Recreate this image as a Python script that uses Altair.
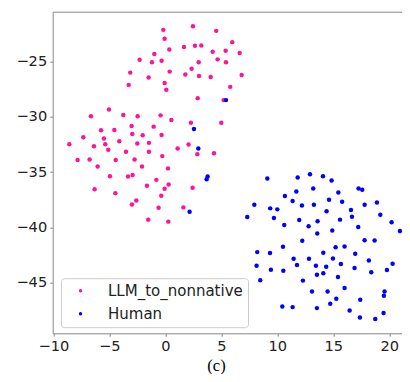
import altair as alt
import pandas as pd

# ---- data ----
llm_x = [-0.18, -0.06, 2.47, 4.55, 5.98, 0.36, 1.67, 2.65, 3.21, 4.23, 5.39, 6.64,
         -0.98, -2.29, -1.19, -0.33, 2.98, 4.67, 5.42, -3.13, 0.39, 2.35, -1.49, 1.79,
         3.01, 4.05, 6.82, -3.27, -0.06, 0.09, 5.80, 2.89, 5.21,
         -5.03, -6.64, -3.75, -2.47, -0.42, 0.54, 2.29, 5.00, -3.01, -1.04, -5.74, -4.55,
         -2.95, -2.02, -0.33, -7.32, -5.48, -4.11, -8.57, -6.37, -5.36, -2.50, -1.46, 2.08,
         1.10, -5.09, -3.51, -1.46, 2.86, 4.35, -0.27, -7.83, -6.76, -4.43, -2.74, -6.04,
         -2.08, 0.24, -4.94, -3.33, -2.92, -0.80, -1.64, 0.30, -6.31, -0.06, 2.44, -4.46,
         -0.36, -2.59, -2.98, -0.60, 1.61, -1.52, 0.27]
llm_y = [-22.12, -22.93, -21.79, -22.21, -23.23, -23.89, -23.68, -23.56, -23.53, -24.10, -24.01, -24.22,
         -24.31, -24.82, -25.06, -24.91, -25.06, -24.79, -25.06, -25.99, -25.90, -25.63, -26.44, -26.17,
         -26.29, -26.38, -26.20, -27.10, -26.92, -27.55, -27.28, -28.30, -28.48,
         -29.32, -29.95, -29.83, -29.95, -29.86, -30.28, -30.52, -30.52, -30.82, -30.88, -31.21, -31.18,
         -31.54, -31.66, -31.63, -31.84, -31.96, -32.20, -32.47, -32.65, -32.47, -32.41, -32.35, -32.50,
         -32.86, -32.98, -33.16, -33.16, -33.37, -33.28, -33.55, -33.91, -33.85, -33.91, -33.85, -34.48,
         -34.48, -34.66, -35.37, -35.40, -35.25, -35.70, -36.24, -36.12, -36.54, -36.51, -36.42, -36.90,
         -37.14, -37.56, -37.92, -38.22, -38.19, -39.30, -39.48]

human_x = [5.42, 2.56, 2.95, 3.78, 3.69, 2.17,
           12.92, 14.08, 14.85, 9.11, 11.82, 13.21, 11.70, 14.62, 15.45, 17.26, 17.59, 10.68,
           11.37, 7.95, 12.20, 13.27, 15.79, 17.80, 18.90, 9.37, 10.00, 14.40, 16.58, 7.32,
           9.70, 16.67, 19.20, 11.96, 13.60, 15.60, 20.21, 10.62, 12.80, 14.91, 17.23, 20.95,
           13.57, 12.23, 17.80, 18.69, 10.51, 15.21, 16.01, 14.11, 8.21, 9.35, 16.96, 11.46,
           12.83, 14.97, 18.18, 11.76, 13.45, 14.37, 15.68, 20.30, 8.15, 9.43, 10.54, 16.90,
           19.79, 18.39, 14.11, 13.54, 15.42, 8.48, 12.29, 16.01, 13.10, 14.49, 19.58, 19.52,
           15.27, 17.41, 14.73, 10.45, 11.37, 13.54, 16.46, 19.49, 17.38, 18.75]
human_y = [-28.48, -31.09, -32.86, -35.40, -35.64, -38.58,
           -35.19, -35.37, -35.76, -35.58, -35.49, -36.48, -36.75, -37.50, -36.84, -36.48, -36.60, -37.17,
           -37.62, -37.95, -38.01, -37.95, -37.68, -37.95, -37.74, -38.28, -38.37, -38.55, -38.43, -39.06,
           -39.15, -39.03, -38.85, -39.33, -39.45, -39.30, -39.54, -39.78, -39.90, -40.29, -39.96, -40.32,
           -40.56, -41.22, -41.16, -41.19, -41.76, -41.79, -41.73, -42.30, -42.24, -42.33, -42.39, -42.84,
           -42.84, -42.81, -42.99, -43.41, -43.47, -43.56, -43.32, -43.29, -43.47, -43.83, -43.92, -43.68,
           -43.86, -44.07, -44.16, -44.28, -44.49, -44.79, -44.82, -45.48, -45.81, -45.81, -45.81, -46.20,
           -46.47, -46.56, -46.92, -47.16, -47.22, -47.31, -47.52, -47.76, -48.15, -48.30]

labels = ["LLM_to_nonnative", "Human"]
colors = ["#FF1493", "#0000FF"]
x_ticks = [-10, -5, 0, 5, 10, 15, 20]
y_ticks = [-25, -30, -35, -40, -45]
caption = "(c)"

df = pd.DataFrame({
    "x": llm_x + human_x,
    "y": llm_y + human_y,
    "group": [labels[0]] * len(llm_x) + [labels[1]] * len(human_x),
})
df["order"] = range(len(df))

W = 359.3
H = 321.6
PL, PT = 44.7, 3.7
SVG_W, SVG_H = 394, 366
AX = "#888888"

chart = alt.Chart(df).mark_circle(size=20, opacity=1).encode(
    x=alt.X("x:Q",
            scale=alt.Scale(domain=[-10.054, 22.03], nice=False, zero=False),
            axis=alt.Axis(values=x_ticks, title=caption, grid=False, domain=False,
                          labelFlush=False, labelOverlap=False,
                          tickSize=3, tickColor=AX, labelPadding=2.5,
                          labelFont="DejaVu Sans", labelFontSize=14.6, labelColor="#222222",
                          titleFont="Liberation Serif", titleFontSize=16.5, titleFontWeight="normal",
                          titleColor="#000000", titleX=163.3, titleY=36.8,
                          titleBaseline="alphabetic", titleAlign="center")),
    y=alt.Y("y:Q",
            scale=alt.Scale(domain=[-49.59, -20.475], nice=False, zero=False),
            axis=alt.Axis(values=y_ticks, title=None, grid=False, domain=False,
                          labelFlush=False, labelOverlap=False,
                          tickSize=3, tickColor=AX, labelPadding=3,
                          labelFont="DejaVu Sans", labelFontSize=14.6, labelColor="#222222")),
    color=alt.Color("group:N",
                    scale=alt.Scale(domain=labels, range=colors),
                    legend=alt.Legend(title=None, orient="none", legendX=8.3, legendY=266.5,
                                      padding=5, symbolType="circle", symbolSize=12,
                                      symbolStrokeWidth=0, symbolOffset=7, labelOffset=20,
                                      labelFont="DejaVu Sans", labelFontSize=15,
                                      labelColor="#222222", rowPadding=7,
                                      fillColor="white", strokeColor="#cccccc",
                                      cornerRadius=3)),
    order=alt.Order("order:Q"),
).properties(
    width=W, height=H,
    padding={"left": PL, "top": PT, "right": SVG_W - PL - W, "bottom": SVG_H - PT - H},
    autosize=alt.AutoSizeParams(type="none"),
).configure_view(stroke=AX, strokeWidth=1)

chart.save("out.html", embed_options={"renderer": "svg", "actions": False})
